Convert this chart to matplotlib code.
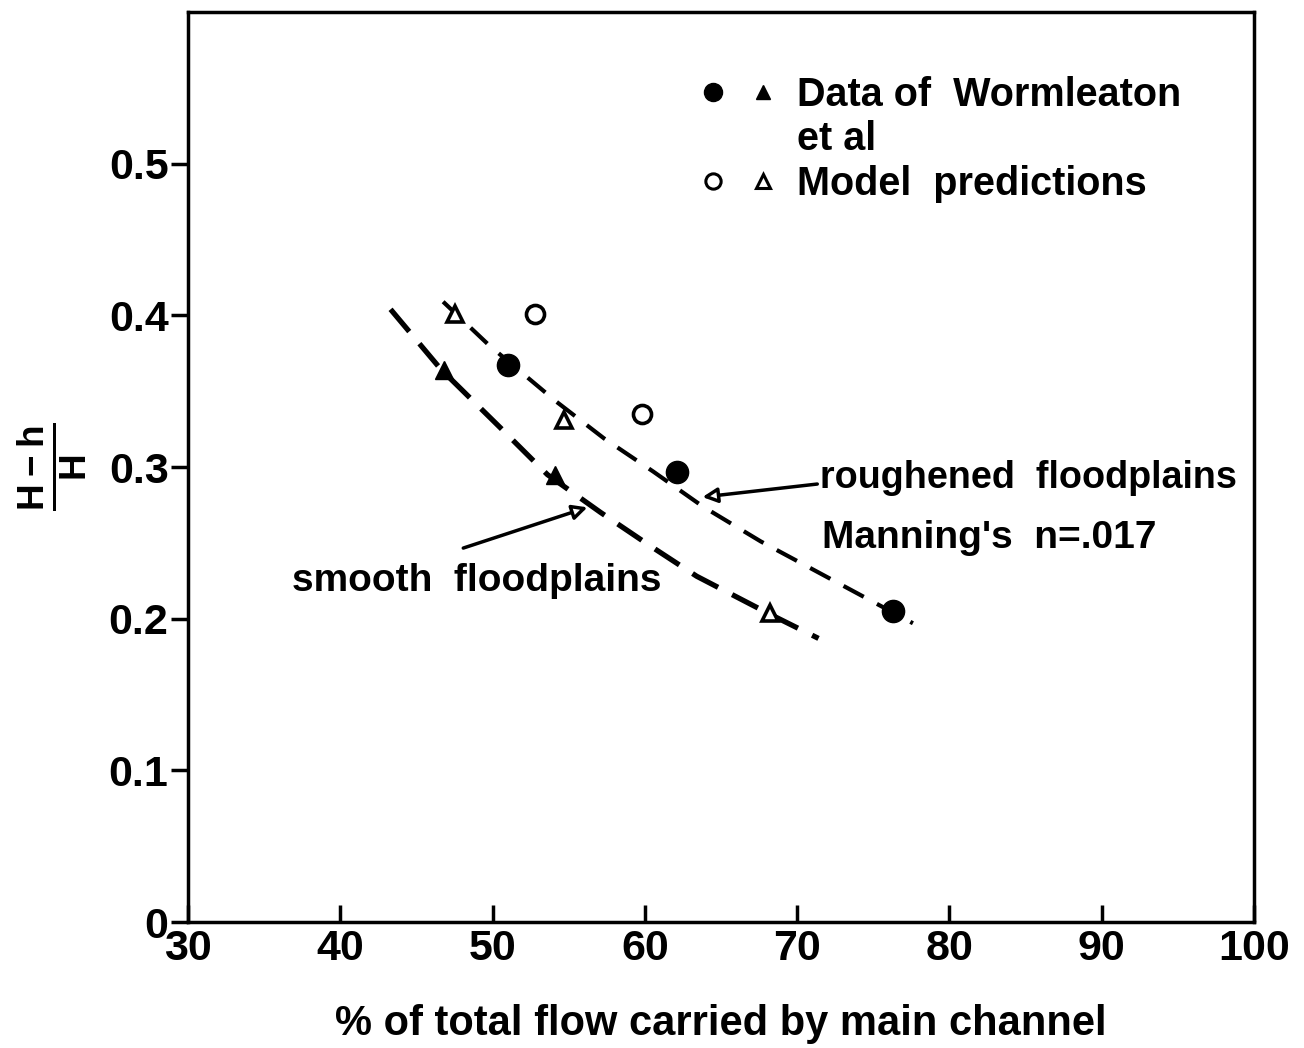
import numpy as np
import matplotlib
matplotlib.use('Agg')
import matplotlib.pyplot as plt
from matplotlib.lines import Line2D
from matplotlib.legend_handler import HandlerTuple

plt.rcParams['font.family'] = 'Liberation Sans'
plt.rcParams['font.weight'] = 'bold'
plt.rcParams['axes.labelweight'] = 'bold'
plt.rcParams['mathtext.fontset'] = 'custom'
plt.rcParams['mathtext.rm'] = 'Liberation Sans:bold'

# Datos medidos (Wormleaton et al)
dato_circ_x = [51.0, 62.1, 76.3]
dato_circ_y = [0.367, 0.297, 0.205]
dato_tri_x = [46.8, 54.1]
dato_tri_y = [0.364, 0.295]

# Predicciones del modelo
modelo_circ_x = [52.8, 59.8]
modelo_circ_y = [0.401, 0.335]
modelo_tri_x = [47.5, 54.7, 68.2]
modelo_tri_y = [0.401, 0.331, 0.204]

# curvas a trazos
liso_x = [43.3, 46.6, 50.5, 53.6, 57.1, 60.2, 63.4, 68.2, 71.4]
liso_y = [0.404, 0.3645, 0.326, 0.295, 0.270, 0.249, 0.228, 0.203, 0.187]
rugoso_x = [46.75, 49.8, 54.2, 57.3, 60.55, 63.8, 67.6, 72.6, 77.6]
rugoso_y = [0.409, 0.380, 0.343, 0.319, 0.297, 0.274, 0.251, 0.224, 0.197]

fig = plt.figure(figsize=(13.04, 10.48), dpi=100)
ax = fig.add_axes([0.1442, 0.1202, 0.8175, 0.8683])

ax.plot(liso_x, liso_y, color='black', lw=3.8, dashes=(5.5, 3.0))
ax.plot(rugoso_x, rugoso_y, color='black', lw=3.0, dashes=(5.5, 3.6))

ax.plot(dato_circ_x, dato_circ_y, 'o', color='black', ms=16, zorder=3)
ax.plot(dato_tri_x, dato_tri_y, '^', color='black', ms=13, zorder=3)
ax.plot(modelo_circ_x, modelo_circ_y, 'o', mfc='white', mec='black', mew=2.6, ms=13, zorder=3)
ax.plot(modelo_tri_x, modelo_tri_y, '^', mfc='white', mec='black', mew=2.6, ms=12, zorder=3)

# leyenda
h_dato = (Line2D([], [], ls='', marker='o', color='black', ms=13),
          Line2D([], [], ls='', marker='^', color='black', ms=10))
h_vacio = Line2D([], [], ls='', marker='')
h_modelo = (Line2D([], [], ls='', marker='o', mfc='white', mec='black', mew=2.2, ms=11),
            Line2D([], [], ls='', marker='^', mfc='white', mec='black', mew=2.2, ms=10))
ax.legend([h_dato, h_vacio, h_modelo],
          ['Data of  Wormleaton', 'et al', 'Model  predictions'],
          handler_map={tuple: HandlerTuple(ndivide=None, pad=0.6)},
          loc='upper left', bbox_to_anchor=(0.447, 0.969), frameon=False,
          fontsize=28.5, labelspacing=0.16, handlelength=1.9, handletextpad=0.55)

# anotaciones
ax.annotate('', xy=(63.6, 0.280), xytext=(71.5, 0.289),
            arrowprops=dict(arrowstyle='-|>', color='black', lw=2.5,
                            mutation_scale=22, fc='white'))
ax.annotate('', xy=(56.4, 0.274), xytext=(47.9, 0.246),
            arrowprops=dict(arrowstyle='-|>', color='black', lw=2.5,
                            mutation_scale=22, fc='white'))
ax.text(71.5, 0.293, 'roughened  floodplains', fontsize=27.2, va='center', ha='left')
ax.text(71.6, 0.253, "Manning's  n=.017", fontsize=28, va='center', ha='left')
ax.text(36.8, 0.225, 'smooth  floodplains', fontsize=28, va='center', ha='left')

ax.set_xlim(30, 100)
ax.set_ylim(0, 0.6)
ax.set_xticks([30, 40, 50, 60, 70, 80, 90, 100])
ax.set_yticks([0, 0.1, 0.2, 0.3, 0.4, 0.5])
ax.set_yticklabels(['0', '0.1', '0.2', '0.3', '0.4', '0.5'])
ax.tick_params(axis='x', direction='in', length=12, width=2.5, labelsize=31, pad=5)
ax.tick_params(axis='y', direction='out', length=12, width=2.5, labelsize=31, pad=2)
for s in ax.spines.values():
    s.set_linewidth(2.5)

ax.set_xlabel('% of total flow carried by main channel', fontsize=30, labelpad=25)
ax.set_ylabel(r'$\frac{\mathrm{H-h}}{\mathrm{H}}$', fontsize=38, labelpad=14)

fig.savefig('out.png', dpi=100)
